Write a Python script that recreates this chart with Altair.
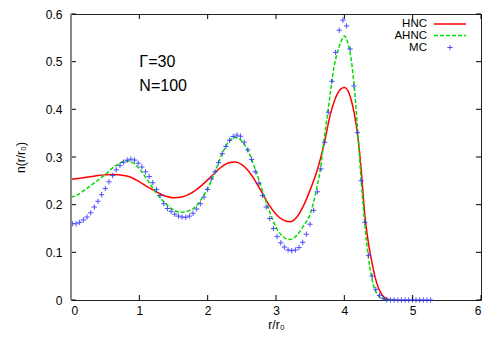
import altair as alt
import pandas as pd

# ---------------- data ----------------
hnc_r = [0.0, 0.1, 0.2, 0.3, 0.4, 0.5, 0.6, 0.7, 0.8, 0.9, 1.0, 1.1, 1.2, 1.3, 1.4, 1.5,
         1.6, 1.7, 1.8, 1.9, 2.0, 2.1, 2.2, 2.3, 2.4, 2.5, 2.6, 2.7, 2.8, 2.9, 3.0, 3.1,
         3.2, 3.3, 3.4, 3.5, 3.6, 3.7, 3.8, 3.9, 3.95, 4.0, 4.05, 4.1, 4.15, 4.2, 4.25,
         4.3, 4.35, 4.4, 4.45, 4.5, 4.55, 4.6, 4.65, 4.7, 4.75]
hnc_n = [0.253, 0.255, 0.257, 0.259, 0.261, 0.2625, 0.2635, 0.263, 0.2605, 0.256, 0.248,
         0.239, 0.231, 0.223, 0.217, 0.2145, 0.2155, 0.220, 0.228, 0.239, 0.252, 0.266,
         0.279, 0.2875, 0.2895, 0.284, 0.270, 0.249, 0.224, 0.199, 0.180, 0.168, 0.164,
         0.173, 0.197, 0.231, 0.271, 0.325, 0.392, 0.433, 0.443, 0.446, 0.440, 0.420,
         0.388, 0.340, 0.268, 0.178, 0.122, 0.082, 0.048, 0.025, 0.011, 0.004, 0.001,
         0.0, 0.0]

ahnc_r = [0.0, 0.1, 0.2, 0.3, 0.4, 0.5, 0.6, 0.7, 0.8, 0.9, 1.0, 1.1, 1.2, 1.3, 1.4, 1.5,
          1.6, 1.7, 1.8, 1.9, 2.0, 2.1, 2.2, 2.3, 2.4, 2.5, 2.6, 2.7, 2.8, 2.9, 3.0, 3.1,
          3.2, 3.3, 3.4, 3.5, 3.55, 3.6, 3.65, 3.7, 3.75, 3.8, 3.85, 3.9, 3.95, 4.0, 4.05,
          4.1, 4.15, 4.2, 4.25, 4.3, 4.35, 4.4, 4.45, 4.5, 4.55, 4.6, 4.65, 4.75]
ahnc_n = [0.2155, 0.221, 0.231, 0.241, 0.252, 0.263, 0.276, 0.286, 0.292, 0.288, 0.275,
          0.256, 0.234, 0.215, 0.200, 0.189, 0.184, 0.186, 0.193, 0.210, 0.234, 0.266,
          0.303, 0.331, 0.341, 0.333, 0.310, 0.273, 0.230, 0.188, 0.153, 0.133, 0.127,
          0.135, 0.155, 0.180, 0.205, 0.237, 0.275, 0.333, 0.385, 0.440, 0.490, 0.520,
          0.542, 0.554, 0.540, 0.505, 0.440, 0.345, 0.245, 0.160, 0.092, 0.047, 0.021,
          0.009, 0.003, 0.001, 0.0, 0.0]

mc_r = [0.020, 0.074, 0.127, 0.181, 0.234, 0.288, 0.341, 0.395, 0.448, 0.502, 0.555,
        0.609, 0.662, 0.716, 0.769, 0.823, 0.876, 0.930, 0.983, 1.037, 1.090, 1.144,
        1.197, 1.251, 1.304, 1.358, 1.411, 1.465, 1.518, 1.572, 1.625, 1.679, 1.732,
        1.786, 1.839, 1.893, 1.946, 2.000, 2.053, 2.107, 2.160, 2.214, 2.267, 2.321,
        2.374, 2.428, 2.481, 2.535, 2.588, 2.642, 2.695, 2.749, 2.802, 2.856, 2.909,
        2.963, 3.016, 3.070, 3.123, 3.177, 3.230, 3.284, 3.337, 3.391, 3.444, 3.498,
        3.551, 3.605, 3.658, 3.712, 3.765, 3.819, 3.872, 3.926, 3.979, 4.033, 4.086,
        4.140, 4.193, 4.247, 4.300, 4.354, 4.407, 4.461, 4.514, 4.568, 4.621, 4.675,
        4.728, 4.782, 4.835, 4.889, 4.942, 4.996, 5.049, 5.103, 5.156, 5.210, 5.263]
mc_n = [0.160, 0.160, 0.163, 0.168, 0.174, 0.183, 0.195, 0.207, 0.221, 0.234, 0.248,
        0.261, 0.273, 0.282, 0.289, 0.2935, 0.2955, 0.2935, 0.287, 0.279, 0.269, 0.259,
        0.246, 0.232, 0.219, 0.202, 0.192, 0.186, 0.180, 0.176, 0.174, 0.1735, 0.176,
        0.182, 0.191, 0.202, 0.216, 0.232, 0.254, 0.269, 0.288, 0.307, 0.322, 0.335,
        0.343, 0.346, 0.3435, 0.331, 0.315, 0.295, 0.269, 0.245, 0.219, 0.195, 0.171,
        0.150, 0.133, 0.120, 0.111, 0.105, 0.1035, 0.105, 0.110, 0.121, 0.138, 0.159,
        0.188, 0.227, 0.275, 0.331, 0.394, 0.459, 0.5195, 0.566, 0.587, 0.575, 0.5265,
        0.449, 0.351, 0.250, 0.163, 0.094, 0.050, 0.0224, 0.0098, 0.0035, 0.0007, 0.0,
        0.0, 0.0, 0.0, 0.0, 0.0, 0.0, 0.0, 0.0, 0.0, 0.0, 0.0]

x_ticks = [0, 1, 2, 3, 4, 5, 6]
y_ticks = [0, 0.1, 0.2, 0.3, 0.4, 0.5, 0.6]
annot_r = [1.0, 1.0]
annot_n = [0.5, 0.45]
annot_t = ["\u0393=30", "N=100"]
legend_labels = ["HNC", "AHNC", "MC"]

# ---------------- chart ----------------
W, H = 410, 286
TL = 5  # inward tick length in px
FONT = "Liberation Sans"
RED = "#ff0000"
GREEN = "#00dd00"
BLUE = "#3030ff"
PLUS = "M-1,0L1,0M0,-1L0,1"

hnc_df = pd.DataFrame({"r": hnc_r, "n": hnc_n})
ahnc_df = pd.DataFrame({"r": ahnc_r, "n": ahnc_n})
mc_df = pd.DataFrame({"r": mc_r, "n": mc_n})
annot_df = pd.DataFrame({"r": annot_r, "n": annot_n, "t": annot_t})
xt_df = pd.DataFrame({"t": x_ticks})
yt_df = pd.DataFrame({"t": y_ticks})
one = pd.DataFrame({"a": [0]})

xs = alt.Scale(domain=[0, 6], nice=False, zero=False)
ys = alt.Scale(domain=[0, 0.6], nice=False, zero=False)

x_axis = alt.Axis(values=x_ticks, format="d", grid=False, domain=False, ticks=False,
                  labelPadding=5, title="r/r\u2080", titlePadding=3,
                  labelFont=FONT, labelFontSize=12, labelColor="#000",
                  titleFont=FONT, titleFontSize=12, titleFontWeight="normal", titleColor="#000")
y_axis = alt.Axis(values=y_ticks, grid=False, domain=False, ticks=False, labelPadding=9,
                  labelExpr="datum.value == 0 ? '0' : format(datum.value, '.1f')",
                  title="n(r/r\u2080)", titlePadding=18,
                  labelFont=FONT, labelFontSize=12, labelColor="#000",
                  titleFont=FONT, titleFontSize=12, titleFontWeight="normal", titleColor="#000")

hnc_line = alt.Chart(hnc_df).mark_line(color=RED, strokeWidth=1.5, interpolate="monotone").encode(
    x=alt.X("r:Q", scale=xs, axis=x_axis),
    y=alt.Y("n:Q", scale=ys, axis=y_axis),
)
ahnc_line = alt.Chart(ahnc_df).mark_line(color=GREEN, strokeWidth=1.5, strokeDash=[4, 2],
                                         interpolate="monotone").encode(
    x=alt.X("r:Q", scale=xs),
    y=alt.Y("n:Q", scale=ys),
)
mc_pts = alt.Chart(mc_df).mark_point(shape=PLUS, size=28, filled=False, color=BLUE,
                                     strokeWidth=1, opacity=0.85).encode(
    x=alt.X("r:Q", scale=xs),
    y=alt.Y("n:Q", scale=ys),
)
annot = alt.Chart(annot_df).mark_text(align="left", baseline="middle", font=FONT,
                                      fontSize=16, color="#000").encode(
    x=alt.X("r:Q", scale=xs),
    y=alt.Y("n:Q", scale=ys),
    text="t:N",
)

# inward ticks on all four sides
xt_bottom = alt.Chart(xt_df).mark_rule(color="#000", strokeWidth=1).encode(
    x=alt.X("t:Q", scale=xs), y=alt.value(H - TL), y2=alt.value(H))
xt_top = alt.Chart(xt_df).mark_rule(color="#000", strokeWidth=1).encode(
    x=alt.X("t:Q", scale=xs), y=alt.value(0), y2=alt.value(TL))
yt_left = alt.Chart(yt_df).mark_rule(color="#000", strokeWidth=1).encode(
    y=alt.Y("t:Q", scale=ys), x=alt.value(0), x2=alt.value(TL))
yt_right = alt.Chart(yt_df).mark_rule(color="#000", strokeWidth=1).encode(
    y=alt.Y("t:Q", scale=ys), x=alt.value(W - TL), x2=alt.value(W))

# left border drawn grey and thicker, like the reference
left_border = alt.Chart(one).mark_rule(color="#888888", strokeWidth=2).encode(
    x=alt.value(0), y=alt.value(0), y2=alt.value(H))

# legend (label on the left, sample on the right, gnuplot style)
LX, SX1, SX2 = 356, 363, 395
rows_y = [10, 21.5, 33.5]
leg = []
for lab, yy in zip(legend_labels, rows_y):
    leg.append(alt.Chart(one).mark_text(align="right", baseline="middle", font=FONT,
                                        fontSize=11.5, color="#000").encode(
        x=alt.value(LX), y=alt.value(yy), text=alt.value(lab)))
leg.append(alt.Chart(one).mark_rule(color=RED, strokeWidth=1.5).encode(
    x=alt.value(SX1), x2=alt.value(SX2), y=alt.value(rows_y[0])))
leg.append(alt.Chart(one).mark_rule(color=GREEN, strokeWidth=1.5, strokeDash=[4, 2]).encode(
    x=alt.value(SX1), x2=alt.value(SX2), y=alt.value(rows_y[1])))
leg.append(alt.Chart(one).mark_point(shape=PLUS, size=28, filled=False, color=BLUE,
                                     strokeWidth=1, opacity=0.85).encode(
    x=alt.value((SX1 + SX2) / 2), y=alt.value(rows_y[2])))

chart = alt.layer(
    hnc_line, ahnc_line, mc_pts, annot, xt_bottom, xt_top, yt_left, yt_right,
    left_border, *leg
).properties(
    width=W, height=H,
    padding={"left": 6, "top": 0, "right": 5, "bottom": 5},
).configure_view(stroke="#222", strokeWidth=1)

chart.save("out.html", embed_options={"renderer": "svg", "actions": False})
